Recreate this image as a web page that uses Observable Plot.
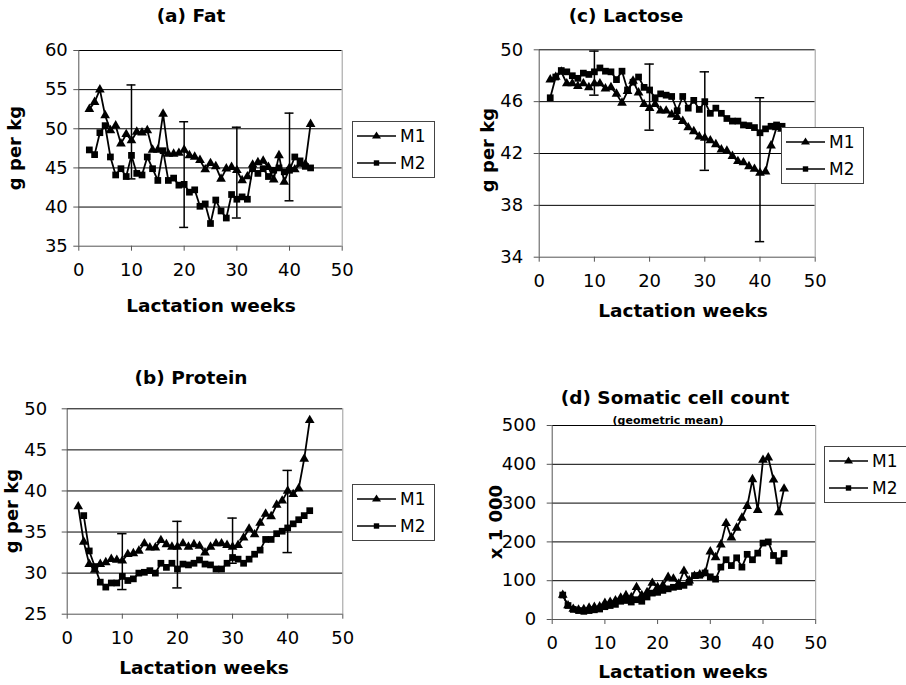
<!DOCTYPE html>
<html><head><meta charset="utf-8">
<script src="https://cdn.jsdelivr.net/npm/d3@7"></script>
<script src="https://cdn.jsdelivr.net/npm/@observablehq/plot@0.6"></script>
<style>
body{margin:0;background:#fff;}
#root{position:relative;width:906px;height:685px;overflow:hidden;font-family:'DejaVu Sans',sans-serif;color:#000;background:#fff;}
.abs{position:absolute;white-space:nowrap;line-height:1;}
.title{font-weight:bold;font-size:18.5px;transform:translate(-50%,-50%);}
.sub{font-weight:bold;font-size:11px;transform:translate(-50%,-50%);}
.xl{font-weight:bold;font-size:18.5px;transform:translate(-50%,-50%);}
.yl{font-weight:bold;font-size:18px;transform:translate(-50%,-50%) rotate(-90deg);}
.panel{position:absolute;}
.legend{position:absolute;border:1px solid #444;box-sizing:border-box;background:#fff;}
</style></head><body><div id="root"></div>
<script>
const weeks = [2,3,4,5,6,7,8,9,10,11,12,13,14,15,16,17,18,19,20,21,22,23,24,25,26,27,28,29,30,31,32,33,34,35,36,37,38,39,40,41,42,43,44];
const xTicks = [0,10,20,30,40,50];

// (a) Fat, g per kg
const fatM1 = [52.5,53.4,55.0,51.7,49.8,50.4,48.1,49.3,48.5,49.6,49.5,49.8,47.3,47.3,51.9,46.8,46.8,46.9,47.3,46.6,46.4,46.0,44.8,45.6,45.2,43.6,44.9,45.1,44.7,43.4,43.9,45.4,45.7,45.9,45.1,43.5,46.6,43.2,45.0,44.8,45.5,45.5,50.6];
const fatM2 = [47.3,46.7,49.5,50.4,46.4,44.1,44.9,43.9,46.6,44.3,44.1,46.4,44.9,43.4,47.2,43.4,43.7,42.8,42.9,41.9,42.2,40.1,40.4,37.9,40.9,39.5,38.6,41.6,41.0,41.3,41.0,44.9,44.3,44.9,43.9,44.7,45.0,44.5,44.7,46.4,45.9,45.2,45.0];
const fatTicks = [35,40,45,50,55,60];
const fatErrWeeks = [10,20,30,40];
const fatErrLow = [43.6,37.4,38.6,40.8];
const fatErrHigh = [55.6,50.9,50.2,52.0];

// (c) Lactose, g per kg
const lacM1 = [47.7,47.9,48.3,47.4,47.4,47.2,47.4,47.1,47.4,47.4,47.0,47.1,46.6,45.9,46.8,47.6,46.7,45.8,45.5,45.8,45.3,45.3,45.0,44.8,44.5,44.0,43.7,43.3,43.2,43.0,42.7,42.3,42.2,41.8,41.4,41.3,41.0,40.8,40.5,40.6,42.6,44.0,43.9];
const lacM2 = [46.3,47.9,48.4,48.3,48.0,47.8,48.2,48.1,48.3,48.6,48.35,48.3,47.7,48.35,46.9,47.5,47.9,47.1,46.9,46.3,46.6,46.5,46.4,45.3,46.4,45.5,46.1,45.4,46.0,45.1,45.5,45.1,44.7,44.5,44.5,44.2,44.15,44.0,43.6,43.9,44.1,44.2,44.1];
const lacTicks = [34,38,42,46,50];
const lacErrWeeks = [10,20,30,40];
const lacErrLow = [46.5,43.8,40.7,35.2];
const lacErrHigh = [49.9,48.9,48.3,46.3];

// (b) Protein, g per kg
const proM1 = [38.1,33.8,31.1,30.4,31.1,31.3,31.7,31.6,31.5,32.3,32.4,32.7,33.6,33.1,33.1,34.0,33.5,33.2,33.2,33.6,33.2,33.5,33.3,32.5,33.2,33.6,33.6,33.4,33.2,33.4,34.3,35.4,34.7,36.1,37.2,36.9,38.3,38.8,40.0,39.6,40.3,43.9,48.6];
const proM2 = [null,37.0,32.7,30.8,28.9,28.3,28.8,28.8,29.6,29.1,29.3,30.0,30.1,30.3,30.0,31.2,30.7,31.2,30.5,31.1,31.0,31.2,31.6,31.1,31.0,30.5,30.5,31.2,31.9,31.7,31.2,31.7,32.3,32.8,34.1,34.1,34.8,35.1,35.5,36.0,36.5,37.0,37.6];
const proTicks = [25,30,35,40,45,50];
const proErrWeeks = [10,20,30,40];
const proErrLow = [28.0,28.2,31.2,32.5];
const proErrHigh = [34.8,36.3,36.7,42.5];

// (d) Somatic cell count (geometric mean), x 1 000
const sccM1 = [63,36,27,25,26,30,32,33,42,45,49,56,62,57,83,62,70,94,83,88,109,105,92,125,100,112,116,120,175,160,193,248,211,236,262,292,361,282,411,417,360,276,337];
const sccM2 = [63,36,26,23,21,23,25,27,33,36,39,47,49,45,51,47,58,68,70,75,79,83,85,88,96,113,114,120,110,104,135,154,139,159,135,168,154,171,197,200,165,151,170];
const sccTicks = [0,100,200,300,400,500];

const seriesNames = ["M1","M2"];
const FONT = "'DejaVu Sans', sans-serif";
const CAP = 0.85; // half width of error-bar caps, in weeks
const root = document.getElementById("root");

function addText(cls, txt, x, y) {
  const d = document.createElement("div");
  d.className = "abs " + cls;
  d.style.left = x + "px";
  d.style.top = y + "px";
  d.textContent = txt;
  root.appendChild(d);
}

function addLegend(x, y) {
  const d = document.createElement("div");
  d.className = "legend";
  d.style.left = x + "px"; d.style.top = y + "px";
  d.style.width = "83px"; d.style.height = "57px";
  const ns = "http://www.w3.org/2000/svg";
  const s = document.createElementNS(ns, "svg");
  s.setAttribute("width", 81); s.setAttribute("height", 55);
  s.style.position = "absolute"; s.style.left = "0"; s.style.top = "0";
  const rowsY = [14, 41];
  rowsY.forEach((ry, i) => {
    const l = document.createElementNS(ns, "line");
    l.setAttribute("x1", 4); l.setAttribute("x2", 43); l.setAttribute("y1", ry); l.setAttribute("y2", ry);
    l.setAttribute("stroke", "#000"); l.setAttribute("stroke-width", 1.7);
    s.appendChild(l);
    if (i === 0) {
      const p = document.createElementNS(ns, "path");
      p.setAttribute("d", `M23.5,${ry-4.5} L28,${ry+2.5} L19,${ry+2.5} Z`);
      p.setAttribute("fill", "#000");
      s.appendChild(p);
    } else {
      const r = document.createElementNS(ns, "rect");
      r.setAttribute("x", 20.8); r.setAttribute("y", ry-2.7); r.setAttribute("width", 5.4); r.setAttribute("height", 5.4);
      r.setAttribute("fill", "#000");
      s.appendChild(r);
    }
    const t = document.createElementNS(ns, "text");
    t.setAttribute("x", 47); t.setAttribute("y", ry);
    t.setAttribute("dominant-baseline", "central");
    t.setAttribute("font-family", FONT); t.setAttribute("font-size", 17);
    t.textContent = seriesNames[i];
    s.appendChild(t);
  });
  d.appendChild(s);
  root.appendChild(d);
}

function drawPanel(cfg) {
  const rows = [];
  weeks.forEach((w, i) => {
    if (cfg.m1[i] != null) rows.push({week: w, value: cfg.m1[i], series: seriesNames[0]});
  });
  weeks.forEach((w, i) => {
    if (cfg.m2[i] != null) rows.push({week: w, value: cfg.m2[i], series: seriesNames[1]});
  });
  const errRows = (cfg.errWeeks || []).map((w, i) => ({week: w, lo: cfg.errLow[i], hi: cfg.errHigh[i]}));
  const caps = errRows.flatMap(d => [{week: d.week, v: d.lo}, {week: d.week, v: d.hi}]);
  const yMin = cfg.yTicks[0], yMax = cfg.yTicks[cfg.yTicks.length - 1];
  const svg = Plot.plot({
    width: cfg.width, height: cfg.height,
    marginLeft: cfg.ml, marginRight: cfg.mr, marginTop: cfg.mt, marginBottom: cfg.mb,
    x: {domain: [0, 50]},
    y: {domain: [yMin, yMax]},
    style: {fontFamily: FONT, fontSize: "18px", background: "transparent", color: "#000", overflow: "visible"},
    marks: [
      Plot.ruleY(cfg.yTicks.filter(t => t !== yMin), {stroke: "#000", strokeWidth: 1}),
      Plot.ruleX([50], {stroke: "#9a9a9a", strokeWidth: 1}),
      Plot.axisX(xTicks, {tickSize: 5, tickPadding: 12, fontSize: 18, stroke: "#555", label: null}),
      Plot.axisY(cfg.yTicks, {tickSize: 5, tickPadding: cfg.yPad, fontSize: 18, stroke: "#555", label: null}),
      Plot.ruleX([0], {stroke: "#555", strokeWidth: 1}),
      Plot.ruleY([yMin], {stroke: "#555", strokeWidth: 1}),
      Plot.ruleX(errRows, {x: "week", y1: "lo", y2: "hi", stroke: "#000", strokeWidth: 1.5}),
      Plot.ruleY(caps, {y: "v", x1: d => d.week - CAP, x2: d => d.week + CAP, stroke: "#000", strokeWidth: 1.5}),
      Plot.line(rows, {x: "week", y: "value", z: "series", stroke: "#000", strokeWidth: 1.8}),
      Plot.dot(rows.filter(d => d.series === seriesNames[0]), {x: "week", y: "value", symbol: "triangle", r: 3.6, fill: "#000"}),
      Plot.dot(rows.filter(d => d.series === seriesNames[1]), {x: "week", y: "value", symbol: "square", r: 3.8, fill: "#000"})
    ]
  });
  const wrap = document.createElement("div");
  wrap.className = "panel";
  wrap.style.left = cfg.left + "px";
  wrap.style.top = cfg.top + "px";
  wrap.appendChild(svg);
  root.appendChild(wrap);
}

// (a) Fat
drawPanel({m1: fatM1, m2: fatM2, yTicks: fatTicks, errWeeks: fatErrWeeks, errLow: fatErrLow, errHigh: fatErrHigh,
  left: 0, top: 30, width: 350, height: 262, ml: 78.3, mr: 8.3, mt: 20, mb: 46.3, yPad: 6});
// (c) Lactose
drawPanel({m1: lacM1, m2: lacM2, yTicks: lacTicks, errWeeks: lacErrWeeks, errLow: lacErrLow, errHigh: lacErrHigh,
  left: 480, top: 30, width: 345, height: 262, ml: 58.7, mr: 10.3, mt: 19.3, mb: 35.3, yPad: 11});
// (b) Protein
drawPanel({m1: proM1, m2: proM2, yTicks: proTicks, errWeeks: proErrWeeks, errLow: proErrLow, errHigh: proErrHigh,
  left: 0, top: 390, width: 350, height: 262, ml: 66.7, mr: 7.7, mt: 18.3, mb: 38.3, yPad: 15});
// (d) Somatic cell count
drawPanel({m1: sccM1, m2: sccM2, yTicks: sccTicks,
  left: 490, top: 405, width: 335, height: 250, ml: 61.7, mr: 9.8, mt: 20, mb: 36, yPad: 11});

addText("title", "(a) Fat", 191, 16);
addText("title", "(c) Lactose", 626, 16);
addText("title", "(b) Protein", 191, 378);
addText("title", "(d) Somatic cell count", 675, 398);
addText("sub", "(geometric mean)", 668, 420);

addText("xl", "Lactation weeks", 211, 306);
addText("xl", "Lactation weeks", 683, 311);
addText("xl", "Lactation weeks", 204, 668);
addText("xl", "Lactation weeks", 683, 672);

addText("yl", "g per kg", 15, 148);
addText("yl", "g per kg", 488, 150);
addText("yl", "g per kg", 12, 511);
addText("yl", "x 1 000", 496, 522);

addLegend(352, 121);
addLegend(781, 127);
addLegend(352, 484);
addLegend(824, 446);
</script></body></html>
